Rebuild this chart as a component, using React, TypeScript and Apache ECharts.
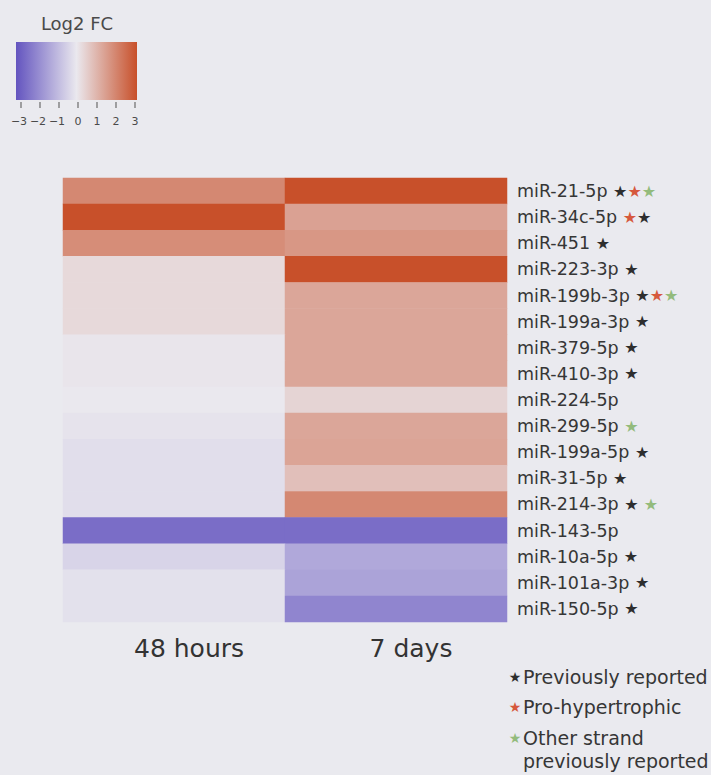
import React, { useEffect, useRef } from "react";
import * as echarts from "echarts";

// microRNAs, top to bottom
const mirnas = [
  "miR-21-5p",
  "miR-34c-5p",
  "miR-451",
  "miR-223-3p",
  "miR-199b-3p",
  "miR-199a-3p",
  "miR-379-5p",
  "miR-410-3p",
  "miR-224-5p",
  "miR-299-5p",
  "miR-199a-5p",
  "miR-31-5p",
  "miR-214-3p",
  "miR-143-5p",
  "miR-10a-5p",
  "miR-101a-3p",
  "miR-150-5p",
];

// star annotations per row: k = previously reported, r = pro-hypertrophic,
// g = other strand previously reported, space = gap
const markers = [
  "krg", "rk", "k", "k", "krg", "k", "k", "k", "", "g", "k", "k", "k g", "", "k", "k", "k",
];

// Log2 fold change at each time point
const fc48h = [1.9, 3.0, 1.8, 0.3, 0.3, 0.3, 0.05, 0.05, 0.0, -0.1, -0.2, -0.2, -0.2, -2.5, -0.4, -0.15, -0.15];
const fc7d = [3.0, 1.4, 1.6, 3.0, 1.3, 1.3, 1.3, 1.3, 0.4, 1.3, 1.35, 0.8, 1.9, -2.5, -1.3, -1.4, -2.0];

const timepoints = ["48 hours", "7 days"];
const scaleTicks = [-3, -2, -1, 0, 1, 2, 3];
const scaleColors = ["#6354bf", "#eae8ee", "#c8502a"];

const legendNotes = [
  { mark: "k", lines: ["Previously reported"] },
  { mark: "r", lines: ["Pro-hypertrophic"] },
  { mark: "g", lines: ["Other strand", "previously reported"] },
];

const starColors: Record<string, string> = { k: "#2e2e2e", r: "#d6583c", g: "#93bb7c" };
const FONT = "DejaVu Sans";

export default function App() {
  const ref = useRef<HTMLDivElement>(null);

  useEffect(() => {
    document.body.style.margin = "0";
    if (!ref.current) return;
    const chart = echarts.init(ref.current, null, { renderer: "svg" });

    const data: [number, number, number][] = [];
    mirnas.forEach((_, i) => {
      data.push([0, i, fc48h[i]]);
      data.push([1, i, fc7d[i]]);
    });

    const rich: Record<string, any> = {
      n: { fontFamily: FONT, fontSize: 17.5, color: "#363636" },
      s: { fontFamily: FONT, fontSize: 16 },
    };
    Object.keys(starColors).forEach((k) => {
      rich[k] = { fontFamily: FONT, fontSize: 16, color: starColors[k] };
    });

    // colour scale legend
    const barX = 16, barY = 42, barW = 121, barH = 58;
    const tickX0 = 21, tickX1 = 135;
    const tMin = scaleTicks[0], tMax = scaleTicks[scaleTicks.length - 1];
    const tickPos = (v: number) => tickX0 + ((v - tMin) / (tMax - tMin)) * (tickX1 - tickX0);

    const legendGraphics: any[] = [
      {
        type: "text",
        style: {
          x: 77, y: 23, text: "Log2 FC", fontFamily: FONT, fontSize: 18,
          fill: "#4a4a4a", align: "center", verticalAlign: "middle",
        },
      },
      {
        type: "rect",
        shape: { x: barX, y: barY, width: barW, height: barH },
        style: {
          fill: new echarts.graphic.LinearGradient(0, 0, 1, 0,
            scaleColors.map((c, i) => ({ offset: i / (scaleColors.length - 1), color: c }))),
        },
      },
      ...scaleTicks.map((v) => ({
        type: "line",
        shape: { x1: tickPos(v), y1: barY + barH + 2, x2: tickPos(v), y2: barY + barH + 8 },
        style: { stroke: "#6a6a6a", lineWidth: 1.2 },
      })),
      ...scaleTicks.map((v) => ({
        type: "text",
        style: {
          x: tickPos(v) - (v < 0 ? 2 : 0), y: 121, text: String(v).replace("-", "\u2212"),
          fontFamily: FONT, fontSize: 11, fill: "#4a4a4a", align: "center", verticalAlign: "middle",
        },
      })),
    ];

    // star key, bottom right
    const noteY = [677, 707, 738];
    const noteGraphics: any[] = [];
    legendNotes.forEach((note, i) => {
      noteGraphics.push({
        type: "text",
        style: {
          x: 515, y: noteY[i], text: "\u2605", fontFamily: FONT, fontSize: 14,
          fill: starColors[note.mark], align: "center", verticalAlign: "middle",
        },
      });
      note.lines.forEach((line, j) => {
        noteGraphics.push({
          type: "text",
          style: {
            x: 523, y: noteY[i] + j * 23, text: line, fontFamily: FONT, fontSize: 19,
            fill: "#363636", align: "left", verticalAlign: "middle",
          },
        });
      });
    });

    chart.setOption({
      animation: false,
      backgroundColor: "#eaeaef",
      grid: { left: 63, top: 178, width: 444, height: 444, containLabel: false },
      xAxis: {
        type: "category",
        data: timepoints,
        position: "bottom",
        axisLine: { show: false },
        axisTick: { show: false },
        splitLine: { show: false },
        axisLabel: {
          fontFamily: FONT, fontSize: 25, color: "#333", margin: 14,
          padding: [0, 0, 0, 30],
        },
      },
      yAxis: {
        type: "category",
        data: mirnas,
        inverse: true,
        position: "right",
        axisLine: { show: false },
        axisTick: { show: false },
        splitLine: { show: false },
        axisLabel: {
          margin: 10,
          formatter: (name: string, idx: number) => {
            const m = markers[idx] || "";
            const stars = m
              .split("")
              .map((c) => (c === " " ? "{s| }" : `{${c}|\u2605}`))
              .join("");
            return `{n|${name} }${stars}`;
          },
          rich,
        },
      },
      visualMap: {
        show: false,
        type: "continuous",
        min: tMin,
        max: tMax,
        dimension: 2,
        inRange: { color: scaleColors },
      },
      series: [
        {
          type: "heatmap",
          data,
          itemStyle: { borderWidth: 0 },
          emphasis: { disabled: true },
        },
      ],
      graphic: [...legendGraphics, ...noteGraphics],
    });

    return () => chart.dispose();
  }, []);

  return <div ref={ref} style={{ width: 711, height: 775 }} />;
}
